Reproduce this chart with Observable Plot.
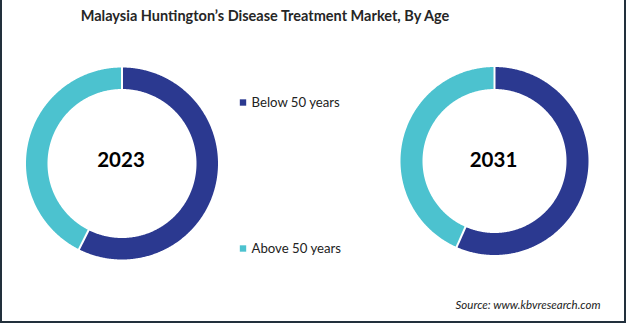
<!DOCTYPE html>
<html>
<head>
<meta charset="utf-8">
<script src="https://cdn.jsdelivr.net/npm/d3@7"></script>
<script src="https://cdn.jsdelivr.net/npm/@observablehq/plot@0.6"></script>
<style>
  html, body { margin: 0; padding: 0; background: #fff; }
  #wrap { position: relative; width: 626px; height: 323px; overflow: hidden; }
  #border { position: absolute; left: 0; top: 0; width: 626px; height: 323px; box-sizing: border-box;
    border-left: 2px solid #22303c; border-right: 2px solid #22303c; border-bottom: 2px solid #22303c; pointer-events: none; }
  svg { display: block; }
</style>
</head>
<body>
<div id="wrap"><div id="chart"></div><div id="border"></div></div>
<script>
// ---- data ----
const title = "Malaysia Huntington\u2019s Disease Treatment Market, By Age";
const source = "Source: www.kbvresearch.com";
const years = ["2023", "2031"];
const categories = ["Below 50 years", "Above 50 years"];
const belowShare = [57.4, 56.6];
const aboveShare = [42.6, 43.4];
const colors = ["#2B3990", "#4CC2CF"];

// ---- layout ----
const W = 626, H = 323;
const donuts = [
  {cx: 121.5, cy: 163, rOuter: 96, rInner: 74.5},
  {cx: 494, cy: 160.5, rOuter: 94, rInner: 72}
];

// build ring slices (angles clockwise from 12 o'clock)
const slicePts = [];
const seps = [];
years.forEach((yr, i) => {
  const d = donuts[i];
  const vals = [belowShare[i], aboveShare[i]];
  const total = d3.sum(vals);
  let a0 = 0;
  vals.forEach((v, j) => {
    const a1 = a0 + v / total * 2 * Math.PI;
    const id = yr + "-" + j;
    const n = Math.max(2, Math.ceil((a1 - a0) / (Math.PI / 360)));
    const pt = (r, a) => ({x: d.cx + r * Math.sin(a), y: d.cy - r * Math.cos(a)});
    for (let k = 0; k <= n; k++) {
      const a = a0 + (a1 - a0) * k / n;
      slicePts.push({id, cat: categories[j], ...pt(d.rOuter, a)});
    }
    for (let k = n; k >= 0; k--) {
      const a = a0 + (a1 - a0) * k / n;
      slicePts.push({id, cat: categories[j], ...pt(d.rInner, a)});
    }
    const p1 = pt(d.rInner - 1, a0), p2 = pt(d.rOuter + 1, a0);
    seps.push({x1: p1.x, y1: p1.y, x2: p2.x, y2: p2.y});
    a0 = a1;
  });
});

const centerLabels = years.map((yr, i) => ({text: yr, x: donuts[i].cx - 1, y: 159.5}));
const legendItems = categories.map((c, j) => ({cat: c, x: 242.5, y: j === 0 ? 102 : 248}));

const chart = Plot.plot({
  width: W, height: H,
  margin: 0,
  x: {domain: [0, W], range: [0, W], axis: null},
  y: {domain: [0, H], range: [0, H], axis: null},
  color: {domain: categories, range: colors},
  marks: [
    Plot.line(slicePts, {x: "x", y: "y", z: "id", fill: "cat", stroke: null, curve: "linear"}),
    Plot.link(seps, {x1: "x1", y1: "y1", x2: "x2", y2: "y2", stroke: "white", strokeWidth: 2}),
    Plot.text(centerLabels, {x: "x", y: "y", text: "text", fontSize: 20.5, fontWeight: "bold", fill: "#000",
      fontFamily: "Lato", textAnchor: "middle", lineAnchor: "middle"}),
    Plot.dot(legendItems, {x: "x", y: "y", fill: "cat", symbol: "square", r: 3.6, stroke: null}),
    Plot.text(legendItems, {x: d => d.x + 8.5, y: "y", text: "cat", fontSize: 13.2, fill: "#222",
      fontFamily: "Lato", textAnchor: "start", lineAnchor: "middle"}),
    Plot.text([title], {x: 264.5, y: 16, text: d => d, fontSize: 14.5, fontWeight: "bold", fill: "#262626",
      fontFamily: "Lato", textAnchor: "middle", lineAnchor: "middle"}),
    Plot.text([source], {x: 600, y: 305, text: d => d, fontSize: 11.5, fontStyle: "italic", fill: "#222",
      fontFamily: "Lato", textAnchor: "end", lineAnchor: "middle"})
  ]
});
document.getElementById("chart").appendChild(chart);
</script>
</body>
</html>
